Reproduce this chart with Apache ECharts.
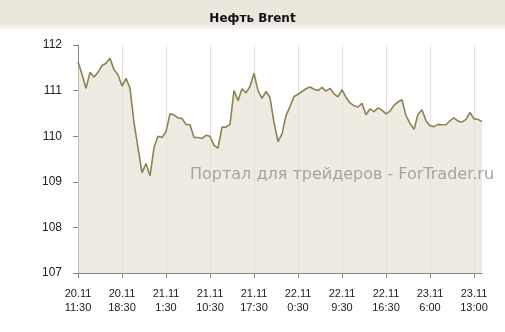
<!DOCTYPE html>
<html>
<head>
<meta charset="utf-8">
<script src="https://cdn.jsdelivr.net/npm/echarts@6/dist/echarts.min.js"></script>
<style>html,body{margin:0;padding:0;background:#fff}#c{width:505px;height:332px}</style>
</head>
<body>
<div id="c"></div>
<script>
var titleText = 'Нефть Brent';
var watermark = 'Портал для трейдеров - ForTrader.ru';
var tickLabels = ['20.11\n11:30','20.11\n18:30','21.11\n1:30','21.11\n10:30','21.11\n17:30','22.11\n0:30','22.11\n9:30','22.11\n16:30','23.11\n6:00','23.11\n13:00'];
var tickEvery = 11;
var prices = [
111.63,111.36,111.05,111.40,111.30,111.40,111.55,111.60,111.71,111.46,
111.35,111.10,111.27,111.05,110.30,109.75,109.20,109.40,109.13,109.75,
110.00,109.97,110.10,110.49,110.47,110.40,110.39,110.26,110.25,109.97,
109.97,109.95,110.02,110.00,109.80,109.74,110.20,110.20,110.26,111.00,
110.78,111.04,110.95,111.09,111.38,111.00,110.83,110.98,110.85,110.30,
109.88,110.05,110.45,110.65,110.87,110.92,110.98,111.04,111.08,111.03,
111.00,111.07,110.99,111.05,110.93,110.86,111.02,110.85,110.73,110.67,
110.64,110.72,110.47,110.60,110.54,110.62,110.57,110.49,110.55,110.68,
110.75,110.80,110.45,110.28,110.15,110.48,110.58,110.34,110.23,110.21,
110.26,110.25,110.25,110.34,110.40,110.33,110.31,110.37,110.52,110.38,
110.37,110.32
];
var categories = prices.map(function(_, i){ return i; });

var chart = echarts.init(document.getElementById('c'));
chart.setOption({
  animation: false,
  backgroundColor: '#ffffff',
  graphic: [
    {type:'rect', shape:{x:0,y:0,width:505,height:25}, style:{fill:'#ebe7dd'}, z:-1},
    {type:'rect', shape:{x:0,y:25,width:505,height:4}, style:{fill:'#f3f1eb'}, z:-1},
    {type:'text', left:190, top:167, style:{text:watermark, fill:'#a9a59c', font:'16px "DejaVu Sans"'}, z:10}
  ],
  title: {
    text: titleText, left: 'center', top: 8,
    textStyle: {fontSize: 12, fontWeight: 'bold', color: '#111', fontFamily: '"DejaVu Sans"'}
  },
  grid: {left: 78, right: 23, top: 45, bottom: 59},
  xAxis: {
    type: 'category', data: categories, boundaryGap: false,
    axisLine: {lineStyle: {color: '#8a8678', width: 1}},
    axisTick: {show: true, interval: tickEvery - 1, length: 5, lineStyle: {color: '#8a8678'}},
    axisLabel: {
      interval: tickEvery - 1, margin: 14, color: '#222', fontSize: 11, lineHeight: 14,
      fontFamily: '"Liberation Sans"',
      formatter: function(v){ var i = +v; return i % tickEvery === 0 ? tickLabels[i / tickEvery] : ''; }
    },
    splitLine: {show: true, interval: tickEvery - 1, lineStyle: {color: '#e2e2e2', width: 1}}
  },
  yAxis: {
    type: 'value', min: 107, max: 112, interval: 1,
    axisLine: {show: true, lineStyle: {color: '#8a8678', width: 1}},
    axisTick: {show: true, length: 5, lineStyle: {color: '#8a8678'}},
    axisLabel: {color: '#222', fontSize: 12, margin: 16, fontFamily: '"Liberation Sans"'},
    splitLine: {show: false}
  },
  series: [{
    type: 'line', data: prices, symbol: 'none', smooth: false,
    lineStyle: {color: '#8c8352', width: 1.6},
    areaStyle: {color: 'rgba(228,222,209,0.88)', origin: 'start'}
  }]
});
</script>
</body>
</html>
